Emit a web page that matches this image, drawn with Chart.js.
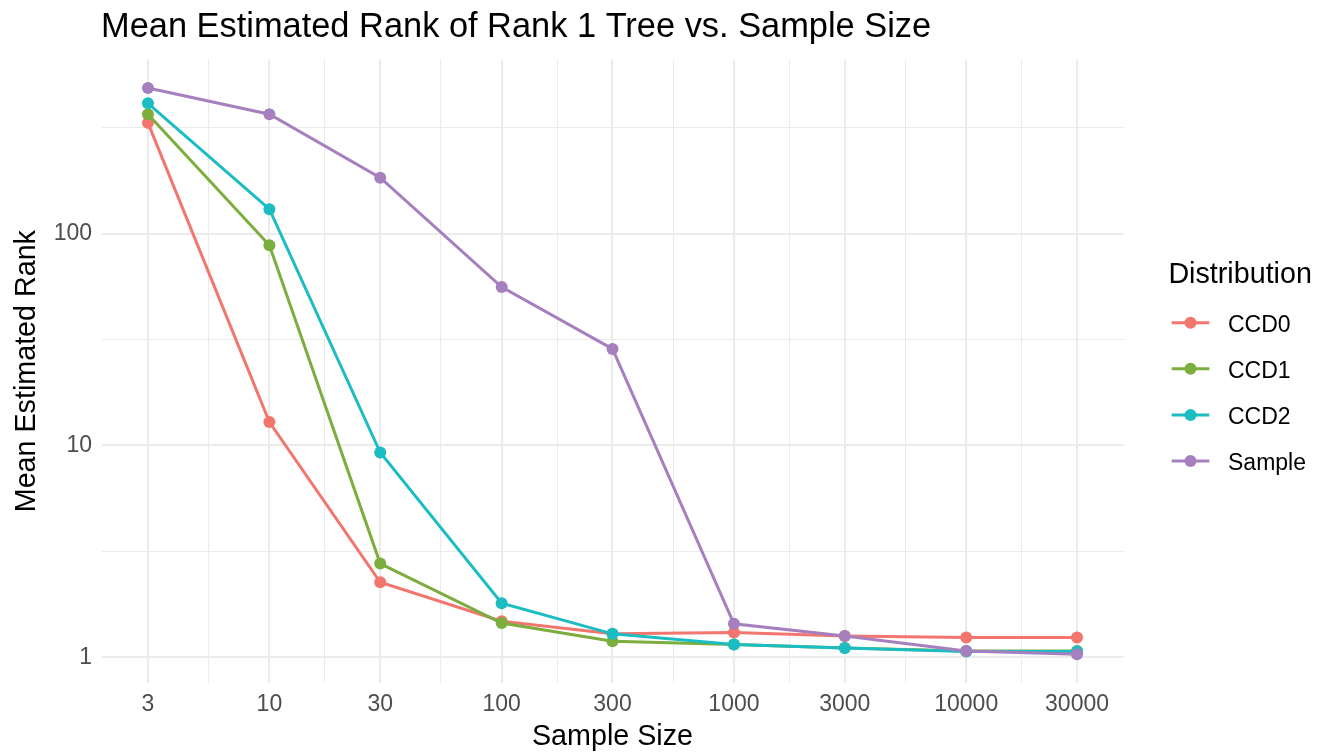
<!DOCTYPE html>
<html>
<head>
<meta charset="utf-8">
<title>Mean Estimated Rank of Rank 1 Tree vs. Sample Size</title>
<script src="https://cdn.jsdelivr.net/npm/chart.js@4.4.1/dist/chart.umd.min.js"></script>
<style>
  html, body { margin: 0; padding: 0; background: #fff; }
  #wrap { width: 1331px; height: 752px; }
</style>
</head>
<body>
<div id="wrap"><canvas id="chart" width="1331" height="752"></canvas></div>
<script>
// ---- data ----
const sampleSizes = [3, 10, 30, 100, 300, 1000, 3000, 10000, 30000];
const ccd0   = [334, 12.9, 2.26, 1.48, 1.29, 1.31, 1.26, 1.24, 1.24];
const ccd1   = [367, 88.3, 2.77, 1.45, 1.19, 1.15, 1.105, 1.07, 1.07];
const ccd2   = [413, 130.6, 9.27, 1.80, 1.29, 1.15, 1.105, 1.065, 1.065];
const sample = [488, 367, 184, 56.0, 28.6, 1.44, 1.26, 1.07, 1.033];

const seriesNames  = ['CCD0', 'CCD1', 'CCD2', 'Sample'];
const seriesValues = [ccd0, ccd1, ccd2, sample];
const seriesColors = ['#F3766E', '#7CAE3E', '#1CBDC2', '#A67FBF'];

const xMajor = [3, 10, 30, 100, 300, 1000, 3000, 10000, 30000];
const yMajor = [1, 10, 100];

const TITLE = 'Mean Estimated Rank of Rank 1 Tree vs. Sample Size';
const FONT = '"Liberation Sans", Arial, Helvetica, sans-serif';

// ggplot-like limits: 5% expansion of the data range in log space
function logLimits(values) {
  const logs = values.map(v => Math.log10(v));
  const lo = Math.min(...logs), hi = Math.max(...logs);
  const pad = (hi - lo) * 0.05;
  return [Math.pow(10, lo - pad), Math.pow(10, hi + pad)];
}
// minor breaks halfway (in log space) between neighbouring majors
function withMinors(majors) {
  const out = [];
  majors.forEach((m, i) => {
    out.push(m);
    if (i < majors.length - 1) out.push(Math.sqrt(m * majors[i + 1]));
  });
  return out;
}

const [xMin, xMax] = logLimits(sampleSizes);
const [yMin, yMax] = logLimits(seriesValues.flat());
let yTicksAll = withMinors(yMajor);
const yUpper = yMajor[yMajor.length - 1] * Math.sqrt(10);
if (yUpper < yMax) yTicksAll.push(yUpper);

const isMajor = (list, v) => list.some(m => Math.abs(m - v) < 1e-9 * m);
const GRID = '#EBEBEB';

Chart.defaults.font.family = FONT;

// title + legend drawn the ggplot way
const ggDecor = {
  id: 'ggDecor',
  afterDraw(chart) {
    const ctx = chart.ctx;
    const area = chart.chartArea;
    ctx.save();
    ctx.textAlign = 'left';
    ctx.textBaseline = 'alphabetic';
    ctx.fillStyle = '#000';
    ctx.font = '34.4px ' + FONT;
    ctx.fillText(TITLE, area.left - 0.5, 37.3);

    // legend
    const lx = area.right + 44.9;
    ctx.font = '28.7px ' + FONT;
    ctx.fillText('Distribution', lx, 283.3);
    chart.data.datasets.forEach((ds, i) => {
      const y = 322.7 + i * 46.1;
      const k0 = area.right + 48.2, k1 = area.right + 85.8;
      ctx.strokeStyle = ds.borderColor;
      ctx.lineWidth = 3;
      ctx.beginPath();
      ctx.moveTo(k0, y);
      ctx.lineTo(k1, y);
      ctx.stroke();
      ctx.fillStyle = ds.borderColor;
      ctx.beginPath();
      ctx.arc((k0 + k1) / 2, y, 6, 0, Math.PI * 2);
      ctx.fill();
      ctx.fillStyle = '#000';
      ctx.font = '23px ' + FONT;
      ctx.fillText(ds.label, area.right + 104.5, y + 9.2);
    });
    ctx.restore();
  }
};

const datasets = seriesNames.map((name, i) => ({
  label: name,
  data: sampleSizes.map((s, j) => ({ x: s, y: seriesValues[i][j] })),
  borderColor: seriesColors[i],
  backgroundColor: seriesColors[i],
  borderWidth: 3,
  pointRadius: 6,
  pointHoverRadius: 6,
  pointBorderWidth: 0,
  tension: 0,
  fill: false,
  order: seriesNames.length - i
}));

new Chart(document.getElementById('chart').getContext('2d'), {
  type: 'line',
  data: { datasets },
  options: {
    responsive: false,
    animation: false,
    devicePixelRatio: 1,
    layout: { padding: { top: 59.7, right: 207.5, bottom: 0, left: 0 } },
    plugins: {
      legend: { display: false },
      title: { display: false },
      tooltip: { enabled: false }
    },
    scales: {
      x: {
        type: 'logarithmic',
        min: xMin,
        max: xMax,
        bounds: 'data',
        afterBuildTicks: (scale) => {
          scale.ticks = withMinors(xMajor).map(v => ({ value: v }));
        },
        afterFit: (scale) => { scale.height = 69.4; },
        ticks: {
          autoSkip: false,
          maxRotation: 0,
          padding: 8.1,
          color: '#4D4D4D',
          font: { size: 23 },
          callback: (v) => isMajor(xMajor, v) ? String(Math.round(v)) : ''
        },
        grid: {
          color: GRID,
          drawTicks: false,
          lineWidth: (c) => (c.tick && isMajor(xMajor, c.tick.value)) ? 2.1 : 1.05
        },
        border: { display: false },
        title: {
          display: true,
          text: 'Sample Size',
          color: '#000',
          font: { size: 28.7 },
          padding: { top: 0, bottom: -2 }
        }
      },
      y: {
        type: 'logarithmic',
        min: yMin,
        max: yMax,
        bounds: 'data',
        afterBuildTicks: (scale) => {
          scale.ticks = yTicksAll.map(v => ({ value: v }));
        },
        afterFit: (scale) => { scale.width = 101.5; },
        ticks: {
          autoSkip: false,
          padding: 9.5,
          color: '#4D4D4D',
          font: { size: 23 },
          callback: (v) => isMajor(yMajor, v) ? String(Math.round(v)) : ''
        },
        grid: {
          color: GRID,
          drawTicks: false,
          lineWidth: (c) => (c.tick && isMajor(yMajor, c.tick.value)) ? 2.1 : 1.05
        },
        border: { display: false },
        title: {
          display: true,
          text: 'Mean Estimated Rank',
          color: '#000',
          font: { size: 28.7 },
          padding: { top: 10.3, bottom: 0 }
        }
      }
    }
  },
  plugins: [ggDecor]
});
</script>
</body>
</html>
